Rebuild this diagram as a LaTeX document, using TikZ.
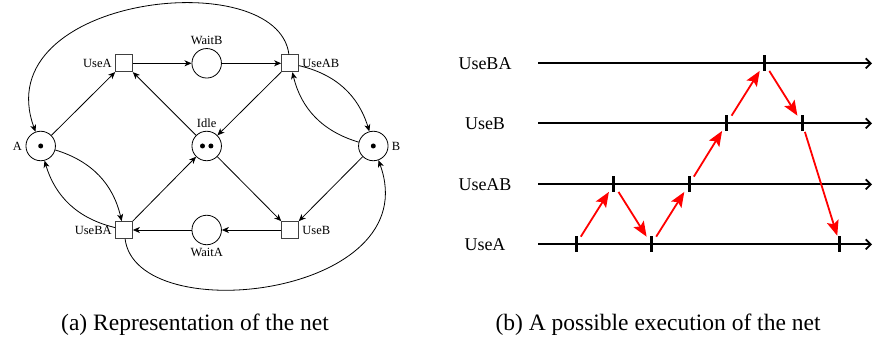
\documentclass[tikz,border=0pt]{standalone}
\usepackage{fontspec}
\setmainfont{Liberation Serif}
\usetikzlibrary{arrows.meta}
\newcommand{\netsize}{\fontsize{12.5}{15}\selectfont}
\newcommand{\runsize}{\fontsize{18}{21}\selectfont}
\newcommand{\capsize}{\fontsize{23.5}{27}\selectfont}
\tikzset{place/.style={circle,draw,line width=0.8pt,minimum size=29.5pt,inner sep=0pt}}
\tikzset{transition/.style={rectangle,draw=black!75,line width=1pt,minimum size=16.7pt,inner sep=0pt}}
\tikzset{token/.style={circle,fill,inner sep=0pt,minimum size=5pt}}
\tikzset{arc/.style={-{Stealth[length=7pt,width=6pt,inset=2pt]},line width=0.8pt}}
\tikzset{timeline/.style={-{Straight Barb[length=5pt,width=10pt]},line width=1.8pt}}
\tikzset{tickmark/.style={line width=3pt}}
\tikzset{firing/.style={-{Stealth[length=15pt,width=12pt,inset=3pt]},red,line width=1.8pt,shorten <=9pt,shorten >=9pt}}
\tikzset{every label/.style={font=\netsize}}

\begin{document}
\begin{tikzpicture}[x=1pt,y=1pt]
	\useasboundingbox (0,0) rectangle (873,339);

	\node[place,label=left:A] (A) at (40.7,193) {};
	\node[place,label=above:Idle] (Idle) at (206.7,193) {};
	\node[place,label=right:B] (B) at (373.3,193) {};
	\node[place,label=above:WaitB] (WaitB) at (206.7,275.7) {};
	\node[place,label=below:WaitA] (WaitA) at (206.7,109) {};
	\node[transition,label=left:UseA] (UseA) at (124,275.7) {};
	\node[transition,label=right:UseAB] (UseAB) at (290,275.7) {};
	\node[transition,label=left:UseBA] (UseBA) at (124,109) {};
	\node[transition,label=right:UseB] (UseB) at (290,109) {};

	\node[token] (tokA) at (A) {};
	\node[token] (tokB) at (B) {};
	\node[token] (tokI1) at (202.5,193) {};
	\node[token] (tokI2) at (210.9,193) {};

	\draw[arc] (A) -- (UseA);
	\draw[arc] (UseA) -- (WaitB);
	\draw[arc] (WaitB) -- (UseAB);
	\draw[arc] (Idle) -- (UseA);
	\draw[arc] (UseAB) -- (Idle);
	\draw[arc] (Idle) -- (UseB);
	\draw[arc] (UseBA) -- (Idle);
	\draw[arc] (B) -- (UseB);
	\draw[arc] (UseB) -- (WaitA);
	\draw[arc] (WaitA) -- (UseBA);
	\draw[arc] (A) to[bend left=30] (UseBA);
	\draw[arc] (UseBA) to[bend left=30] (A);
	\draw[arc] (UseAB) to[bend left=30] (B);
	\draw[arc] (B) to[bend left=30] (UseAB);
	\draw[arc] (UseAB) to[out=97,in=110,out distance=92pt,in distance=145pt] (A);
	\draw[arc] (UseBA) to[out=-83,in=-70,out distance=92pt,in distance=145pt] (B);

	\foreach \name/\y in {UseBA/275.7,UseB/215.7,UseAB/154.7,UseA/94.7} {
		\node[font=\runsize] (l\name) at (485,\y) {\name};
		\coordinate (s\name) at (538,\y);
		\coordinate (e\name) at (872,\y);
		\draw[timeline] (s\name) -- (e\name);
	}
	\foreach \k/\y in {0/94.7,1/154.7,2/94.7,3/154.7,4/215.7,5/275.7,6/215.7,7/94.7} {
		\coordinate (t\k) at ({576+37.7*\k},\y);
		\draw[tickmark] (t\k) ++(0,8) -- ++(0,-16);
	}
	\foreach \i/\j in {0/1,1/2,2/3,3/4,4/5,5/6,6/7}
		\draw[firing] (t\i) -- (t\j);

	\node[font=\capsize] (capA) at (195,14) {(a) Representation of the net};
	\node[font=\capsize] (capB) at (658,14) {(b) A possible execution of the net};
\end{tikzpicture}
\end{document}
